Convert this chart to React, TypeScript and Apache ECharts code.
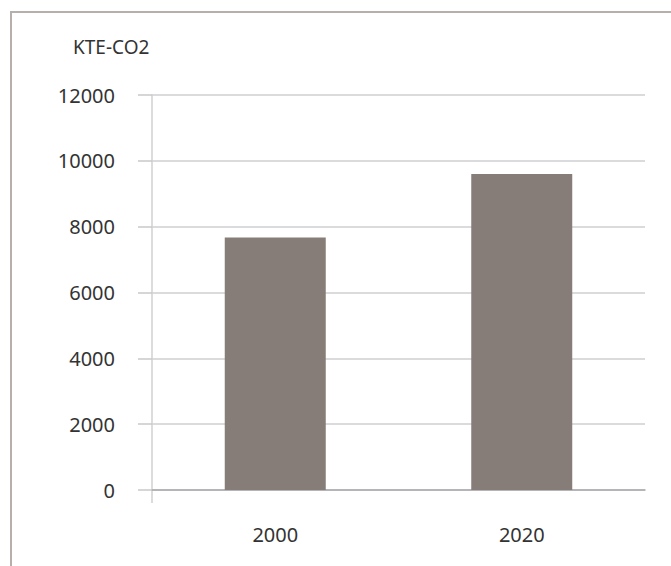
import React, { useEffect, useRef } from "react";
import * as echarts from "echarts";

const categories = ["2000", "2020"];
const emissions = [7670, 9600];
const unitLabel = "KTE-CO2";

export default function App() {
  const ref = useRef<HTMLDivElement>(null);
  useEffect(() => {
    if (!ref.current) return;
    const chart = echarts.init(ref.current, null, { renderer: "svg" });
    const font = "'Noto Sans', 'Open Sans', sans-serif";
    chart.setOption({
      animation: false,
      backgroundColor: "#ffffff",
      grid: { left: 152, right: 26, top: 95, bottom: 76 },
      xAxis: {
        type: "category",
        data: categories,
        axisLine: { show: true, lineStyle: { color: "#a9a9ad", width: 1.5 } },
        axisTick: { show: false },
        axisLabel: { color: "#333333", fontSize: 20, fontFamily: font, margin: 34 },
      },
      yAxis: {
        type: "value",
        min: 0,
        max: 12000,
        interval: 2000,
        axisLine: { show: true, lineStyle: { color: "#d0d0d2", width: 1.5 } },
        axisTick: { show: true, length: 14, lineStyle: { color: "#c8c8ca", width: 1.5 } },
        splitLine: { show: true, lineStyle: { color: "#cfcfd2", width: 1.5 } },
        axisLabel: {
          color: "#333333",
          fontSize: 20,
          fontFamily: font,
          margin: 37,
          formatter: (v: number) => String(v),
        },
      },
      series: [
        {
          type: "bar",
          data: emissions,
          barWidth: 101,
          itemStyle: { color: "#877d78" },
        },
      ],
    });
    const origin = chart.convertToPixel({ gridIndex: 0 }, [0, 0]) as number[];
    const axisX = 152;
    chart.setOption({
      graphic: [
        {
          type: "rect",
          shape: { x: 11, y: 12, width: 800, height: 700 },
          style: { fill: "none", stroke: "#b7afab", lineWidth: 2 },
          silent: true,
        },
        {
          type: "line",
          shape: { x1: axisX, y1: origin[1], x2: axisX, y2: origin[1] + 13 },
          style: { stroke: "#d0d0d2", lineWidth: 1.5 },
          silent: true,
        },
        {
          type: "text",
          x: 73,
          y: 47,
          style: {
            text: unitLabel,
            fill: "#333333",
            font: "19px 'Noto Sans', 'Open Sans', sans-serif",
            verticalAlign: "middle",
            align: "left",
          },
        },
      ],
    });
    return () => chart.dispose();
  }, []);
  return (
    <div
      ref={ref}
      style={{ position: "fixed", left: 0, top: 0, width: 671, height: 566 }}
    />
  );
}
